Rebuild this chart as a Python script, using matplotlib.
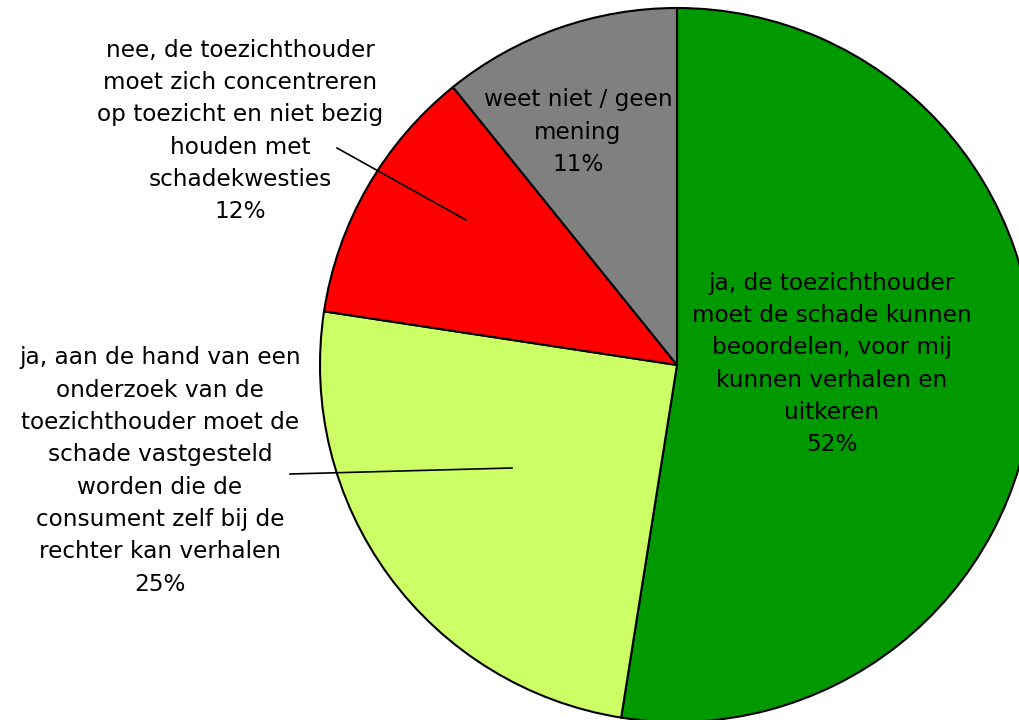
import matplotlib.pyplot as plt

labels = [
    "ja, de toezichthouder\nmoet de schade kunnen\nbeoordelen, voor mij\nkunnen verhalen en\nuitkeren",
    "ja, aan de hand van een\nonderzoek van de\ntoezichthouder moet de\nschade vastgesteld\nworden die de\nconsument zelf bij de\nrechter kan verhalen",
    "nee, de toezichthouder\nmoet zich concentreren\nop toezicht en niet bezig\nhouden met\nschadekwesties",
    "weet niet / geen\nmening",
]
values = [52.5, 24.9, 11.8, 10.8]
pct_labels = ["52%", "25%", "12%", "11%"]
colors = ["#009900", "#CCFF66", "#FF0000", "#808080"]

W, H = 1020, 720
cx, cy, R = 677, 365, 357

fig = plt.figure(figsize=(W / 100, H / 100), dpi=100)
fig.patch.set_facecolor("white")
ax = fig.add_axes([0, 0, 1, 1])

wedges, _ = ax.pie(values, colors=colors, startangle=90, counterclock=False,
                   radius=1, center=(0, 0),
                   wedgeprops=dict(edgecolor="black", linewidth=1.5))

ax.set_xlim(-cx / R, (W - cx) / R)
ax.set_ylim(-(H - cy) / R, cy / R)
ax.set_aspect("equal")
ax.axis("off")


def px(x, y):
    return (x - cx) / R, (cy - y) / R


# label centres in pixel space (placed like the original)
label_pos = [(832, 364), (160, 471), (240, 131), (578, 132)]

for lab, pct, (lx, ly) in zip(labels, pct_labels, label_pos):
    tx, ty = px(lx, ly)
    ax.text(tx, ty, lab + "\n" + pct, ha="center", va="center",
            fontsize=16.7, family="DejaVu Sans", linespacing=1.52, color="black")

# leader lines for the two outside labels
leaders = [((290, 474), (512, 468)), ((337, 148), (466, 220))]
for (x0, y0), (x1, y1) in leaders:
    p0, p1 = px(x0, y0), px(x1, y1)
    ax.plot([p0[0], p1[0]], [p0[1], p1[1]], color="black", linewidth=1.2)

plt.savefig("out.png", dpi=100, facecolor="white")
